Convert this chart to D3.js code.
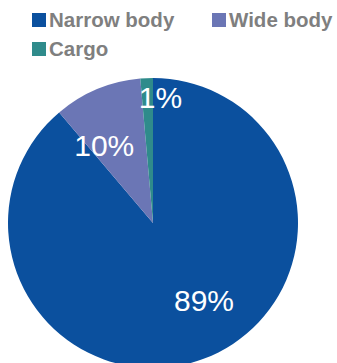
<!DOCTYPE html>
<html><head><meta charset="utf-8">
<script src="https://cdn.jsdelivr.net/npm/d3@7"></script>
<style>html,body{margin:0;padding:0;background:#fff;overflow:hidden}</style>
</head><body><svg id="c" width="337" height="363"></svg>
<script>
const categories = ["Narrow body", "Wide body", "Cargo"];
const values = [88.8, 9.8, 1.4];
const labels = ["89%", "10%", "1%"];
const colors = ["#0B509E", "#6B76B5", "#2F8B8B"];

const svg = d3.select("#c");
const cx = 153, cy = 223, R = 145;
const pie = d3.pie().sort(null)(values);
const arc = d3.arc().innerRadius(0).outerRadius(R);
const g = svg.append("g").attr("transform", `translate(${cx},${cy})`);
g.selectAll("path").data(pie).join("path").attr("d", arc).attr("fill", (d,i)=>colors[i]);

const labelR = [0.64, 0.64, 0.87];
const labelOff = [[19,-10],[-13,8],[13,1]];
g.selectAll("text").data(pie).join("text")
  .attr("transform", (d,i)=>{
    const a = d3.arc().innerRadius(R*labelR[i]).outerRadius(R*labelR[i]);
    const c = a.centroid(d);
    return `translate(${c[0]+labelOff[i][0]},${c[1]+labelOff[i][1]})`;
  })
  .attr("text-anchor","middle").attr("dominant-baseline","central")
  .attr("fill","#fff").attr("font-family","Liberation Sans, Arial, sans-serif")
  .attr("font-size",30).text((d,i)=>labels[i]);

const legPos = [[32,13],[212,13],[32,42]];
const lg = svg.append("g");
categories.forEach((c,i)=>{
  lg.append("rect").attr("x",legPos[i][0]).attr("y",legPos[i][1]).attr("width",14).attr("height",14).attr("fill",colors[i]);
  lg.append("text").attr("x",legPos[i][0]+17).attr("y",legPos[i][1]+14)
    .attr("font-family","Liberation Sans, Arial, sans-serif").attr("font-weight","bold")
    .attr("font-size",20.5).attr("fill","#7F7F7F").text(c);
});
</script></body></html>
